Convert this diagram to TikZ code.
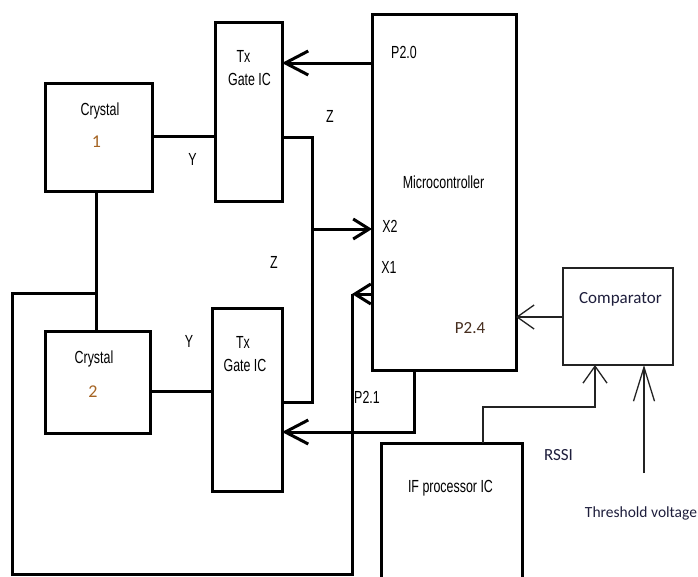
\documentclass[tikz,border=0pt]{standalone}
\usepackage{fontspec}
\setmainfont{Liberation Sans}
\newfontfamily\arn[FakeStretch=0.71]{Liberation Sans}
\newfontfamily\calf{Carlito}
\usetikzlibrary{arrows.meta}
\definecolor{numcol}{RGB}{165,100,35}
\definecolor{pcol}{RGB}{70,45,30}
\definecolor{navy}{RGB}{30,30,60}
\definecolor{thin}{RGB}{35,35,35}
\begin{document}
\begin{tikzpicture}[x=1pt,y=-1pt,
  blk/.style={draw=black,line width=3pt,inner sep=0pt,outer sep=0pt},
  tblk/.style={draw=thin,line width=1.3pt,inner sep=0pt,outer sep=0pt},
  lbl/.style={font=\arn\fontsize{17.5}{19}\selectfont,anchor=base,inner sep=0pt},
  clbl/.style={font=\calf\fontsize{17}{19}\selectfont,anchor=base,inner sep=0pt,text=navy},
  nlbl/.style={font=\calf\fontsize{18}{19}\selectfont,anchor=base,inner sep=0pt,text=numcol},
  wire/.style={line width=3pt,line join=miter},
  twire/.style={line width=1.3pt,draw=thin},
  bigarr/.style={-{Straight Barb[length=23pt,width=24pt]}},
  midarr/.style={-{Straight Barb[length=16pt,width=20pt]}},
  tarr/.style={-{Straight Barb[length=17pt,width=24pt]}},
  longarr/.style={-{Straight Barb[length=34pt,width=21pt]}}]
\useasboundingbox (0,0) rectangle (698,576);
\clip (0,0) rectangle (698,576);
\fill[white] (0,0) rectangle (698,576);

% blocks
\node[blk,minimum width=107pt,minimum height=108pt] (c1) at (98.5,137) {};
\node[blk,minimum width=67pt,minimum height=179pt] (t1) at (248.5,111.5) {};
\node[blk,minimum width=105pt,minimum height=102pt] (c2) at (97.5,382) {};
\node[blk,minimum width=70pt,minimum height=183pt] (t2) at (247,399.5) {};
\node[blk,minimum width=144pt,minimum height=356pt] (mc) at (444,192) {};
\node[tblk,minimum width=110pt,minimum height=97pt] (cmp) at (618,316.5) {};
\node[blk,minimum width=141pt,minimum height=170pt] (ifp) at (451.5,528) {};

% texts
\node[lbl] (c1a) at (100,115) {Crystal};
\node[nlbl] (c1b) at (96.5,147) {1};
\node[lbl] (t1a) at (243.5,62) {Tx};
\node[lbl] (t1b) at (249.5,85) {Gate IC};
\node[lbl] (y1) at (192.5,165) {Y};
\node[lbl] (z1) at (330,122) {Z};
\node[lbl] (z2) at (274,268) {Z};
\node[lbl] (c2a) at (94,363) {Crystal};
\node[nlbl] (c2b) at (93,397) {2};
\node[lbl] (y2) at (189,347) {Y};
\node[lbl] (t2a) at (243,348) {Tx};
\node[lbl] (t2b) at (245,371) {Gate IC};
\node[lbl] (p20) at (404,58) {P2.0};
\node[lbl] (mct) at (443.5,188) {Microcontroller};
\node[lbl] (x2) at (390,232) {X2};
\node[lbl] (x1) at (389,273) {X1};
\node[clbl,text=pcol] (p24) at (470,333) {P2.4};
\node[lbl] (p21) at (367,403) {P2.1};
\node[clbl] (cmpt) at (620.5,303) {Comparator};
\node[clbl] (rssi) at (558.5,460) {RSSI};
\node[lbl] (ift) at (450.5,492) {IF processor IC};
\node[clbl,font=\calf\fontsize{15.5}{18}\selectfont] (thr) at (641,517) {Threshold voltage};

% connection points
\coordinate (c1r) at (152,136);
\coordinate (t1l) at (215,136);
\coordinate (t1o) at (282,137);
\coordinate (zr) at (312,137);
\coordinate (zb) at (312,402);
\coordinate (t2o) at (282,402);
\coordinate (zx) at (312,229);
\coordinate (mcx2) at (372,229);
\coordinate (mcp0) at (372,63);
\coordinate (t1p) at (282,63);
\coordinate (mcx1) at (372,294);
\coordinate (lp1) at (352,294);
\coordinate (lp2) at (352,574);
\coordinate (lp3) at (12,574);
\coordinate (lp4) at (12,293);
\coordinate (lp5) at (96,293);
\coordinate (c1b0) at (96,191);
\coordinate (c2t) at (96,331);
\coordinate (mcb) at (414,370);
\coordinate (p21c) at (414,432);
\coordinate (t2p) at (282,432);
\coordinate (c2r) at (150,391);
\coordinate (t2l) at (212,391);
\coordinate (ift0) at (483,443);
\coordinate (if1) at (483,407);
\coordinate (if2) at (595,407);
\coordinate (cmpb1) at (595,365);
\coordinate (thr0) at (644,473);
\coordinate (cmpb2) at (644,365);
\coordinate (cmpl) at (563,317);
\coordinate (mcr) at (516,317);

% wires
\draw[wire] (c1r) -- (t1l);
\draw[wire] (c2r) -- (t2l);
\draw[wire] (t1o) -- (zr) -- (zb) -- (t2o);
\draw[wire,midarr] (zx) -- (mcx2);
\draw[wire,bigarr] (mcp0) -- (t1p);
\draw[wire,midarr] (mcx1) -- (lp1);
\draw[wire] (lp1) -- (lp2) -- (lp3) -- (lp4) -- (lp5);
\draw[wire] (c1b0) -- (c2t);
\draw[wire,bigarr] (mcb) -- (p21c) -- (t2p);
\draw[twire,tarr] (ift0) -- (if1) -- (if2) -- (cmpb1);
\draw[twire,longarr] (thr0) -- (cmpb2);
\draw[twire,tarr] (cmpl) -- (mcr);
\end{tikzpicture}
\end{document}
